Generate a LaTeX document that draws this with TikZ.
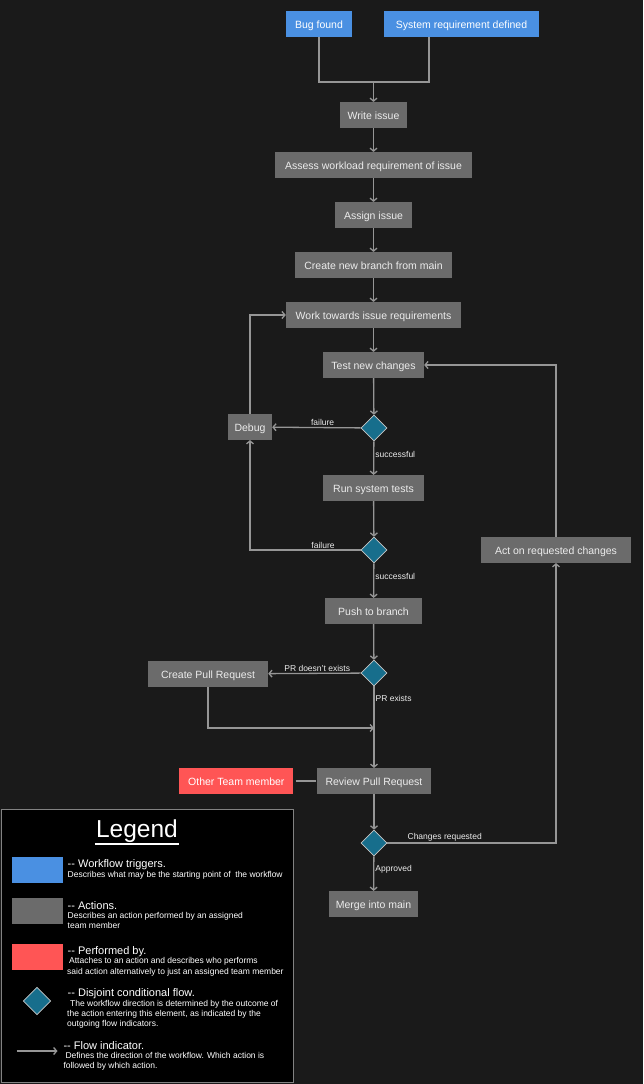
\documentclass[tikz,border=0pt]{standalone}
\usepackage{fontspec}
\setmainfont{Liberation Sans}
\usetikzlibrary{arrows.meta,shapes.geometric}
\definecolor{bgdark}{RGB}{26,26,26}
\definecolor{trigblue}{RGB}{74,144,226}
\definecolor{actgrey}{RGB}{107,107,107}
\definecolor{perfred}{RGB}{255,85,85}
\definecolor{condteal}{RGB}{23,110,140}
\definecolor{linegrey}{RGB}{150,150,150}
\definecolor{rimgrey}{RGB}{200,200,200}
\definecolor{txtlight}{RGB}{236,236,236}
\tikzset{
  box/.style={minimum height=25.7pt, inner sep=0pt, text height=8.6pt, text depth=0pt,
    font=\fontsize{10.5}{12}\selectfont},
  trigger/.style={box, fill=trigblue, text=white},
  action/.style={box, fill=actgrey, text=txtlight},
  performer/.style={box, fill=perfred, text=white},
  cond/.style={diamond, draw=rimgrey, line width=0.8pt, fill=condteal, inner sep=0pt,
    minimum width=26pt, minimum height=26pt},
  link/.style={draw=linegrey, line width=1.3pt},
  flow/.style={link, -{Straight Barb[length=3pt,width=7pt]}},
  lbl/.style={font=\fontsize{8.5}{10}\selectfont, text=txtlight, inner sep=1pt},
  lghead/.style={anchor=west, inner sep=0pt, text=white, font=\fontsize{11}{13}\selectfont},
  lgdesc/.style={anchor=west, inner sep=0pt, align=left, text=white,
    font=\fontsize{8.5}{10.3}\selectfont},
}
\begin{document}
\begin{tikzpicture}[x=1pt, y=-1pt]
\fill[bgdark] (0,0) rectangle (643,1084);
\useasboundingbox (0,0) rectangle (643,1084);

\node[trigger, minimum width=66pt] (bug) at (319,24) {Bug found};
\node[trigger, minimum width=155pt] (sysreq) at (461.5,24) {System requirement defined};
\node[action, minimum width=67pt] (write) at (373.5,115) {Write issue};
\node[action, minimum width=197pt] (assess) at (373.5,165) {Assess workload requirement of issue};
\node[action, minimum width=77pt] (assign) at (373.5,215) {Assign issue};
\node[action, minimum width=157pt] (branch) at (373.5,265) {Create new branch from main};
\node[action, minimum width=175pt] (work) at (373.5,315) {Work towards issue requirements};
\node[action, minimum width=101pt] (test) at (373.5,365) {Test new changes};
\node[cond] (c1) at (374,428) {};
\node[action, minimum width=44pt] (debug) at (250,427) {Debug};
\node[action, minimum width=101pt] (systest) at (373.5,488) {Run system tests};
\node[cond] (c2) at (374,550) {};
\node[action, minimum width=97pt] (push) at (373.5,611) {Push to branch};
\node[cond] (c3) at (374,673) {};
\node[action, minimum width=120pt] (createpr) at (208,674) {Create Pull Request};
\node[action, minimum width=114pt] (review) at (374,781) {Review Pull Request};
\node[performer, minimum width=114pt] (other) at (236.3,781) {Other Team member};
\node[cond] (c4) at (374,843) {};
\node[action, minimum width=89pt] (merge) at (373.5,904) {Merge into main};
\node[action, minimum width=150pt] (act) at (556,550) {Act on requested changes};

\coordinate (tjoin) at (373.5,82);
\coordinate (sysout) at ([xshift=-32.5pt]sysreq.south);
\coordinate (prjoin) at (374,728);

\draw[link] (bug.south) |- (tjoin);
\draw[link] (sysout) |- (tjoin);
\draw[flow] (tjoin) -- (write);
\draw[flow] (write) -- (assess);
\draw[flow] (assess) -- (assign);
\draw[flow] (assign) -- (branch);
\draw[flow] (branch) -- (work);
\draw[flow] (work) -- (test);
\draw[flow] (test) -- (c1);
\draw[flow] (c1) -- node[lbl, above, pos=.43] {failure} (debug);
\draw[flow] (debug) |- (work);
\draw[flow] (c1) -- node[lbl, right, pos=.38] {successful} (systest);
\draw[flow] (systest) -- (c2);
\draw[flow] (c2) -| node[lbl, above, pos=.17] {failure} (debug);
\draw[flow] (c2) -- node[lbl, right, pos=.37] {successful} (push);
\draw[flow] (push) -- (c3);
\draw[flow] (c3) -- node[lbl, above, pos=.47] {PR doesn't exists} (createpr);
\draw[flow] (c3) -- node[lbl, right, pos=.15] {PR exists} (review);
\draw[flow] (createpr) |- (prjoin);
\draw[link, shorten <=2pt, shorten >=1pt] (other) -- (review);
\draw[flow] (review) -- (c4);
\draw[flow] (c4) -| node[lbl, above, pos=.17] {Changes requested} (act);
\draw[flow] (act) |- (test);
\draw[flow] (c4) -- node[lbl, right, pos=.37] {Approved} (merge);

%% Legend
\draw[draw={rgb,255:red,130;green,130;blue,130}, fill=black] (1,809.5) rectangle (293.5,1082.5);
\node[text=white, inner sep=1pt, font=\fontsize{24.5}{28}\selectfont] (lgtitle) at (137,831.3) {Legend};
\draw[white, line width=1.2pt] (lgtitle.south west) -- (lgtitle.south east);

\node[trigger, minimum width=51pt, minimum height=26pt] (lgtrig) at (37.5,870) {};
\node[lghead] (lgtrighead) at (67.5,865) {-{}- Workflow triggers.};
\node[lgdesc] (lgtrigdesc) at (67.5,874.8) {Describes what may be the starting point of\ \ the workflow};

\node[action, minimum width=51pt, minimum height=26pt] (lgact) at (37.5,911) {};
\node[lghead] (lgacthead) at (67.5,905.5) {-{}- Actions.};
\node[lgdesc] (lgactdesc) at (67.5,920.5) {Describes an action performed by an assigned\\team member};

\node[performer, minimum width=51pt, minimum height=26pt] (lgperf) at (37.5,957) {};
\node[lghead] (lgperfhead) at (67.5,951.5) {-{}- Performed by.};
\node[lgdesc] (lgperfdesc) at (67,966.8) {\hspace*{2pt}Attaches to an action and describes who performs\\said action alternatively to just an assigned team member};

\node[cond, minimum width=27.5pt, minimum height=27.5pt] (lgcond) at (37,1001) {};
\node[lghead] (lgcondhead) at (67.5,994) {-{}- Disjoint conditional flow.};
\node[lgdesc] (lgconddesc) at (67,1014.2) {\hspace*{3pt}The workflow direction is determined by the outcome of\\the action entering this element, as indicated by the\\outgoing flow indicators.};

\coordinate (lgflowa) at (16.7,1051);
\coordinate (lgflowb) at (57.5,1051);
\draw[flow] (lgflowa) -- (lgflowb);
\node[lghead] (lgflowhead) at (63.3,1045.5) {-{}- Flow indicator.};
\node[lgdesc] (lgflowdesc) at (63.3,1061) {\hspace*{2pt}Defines the direction of the workflow. Which action is\\followed by which action.};
\end{tikzpicture}
\end{document}
